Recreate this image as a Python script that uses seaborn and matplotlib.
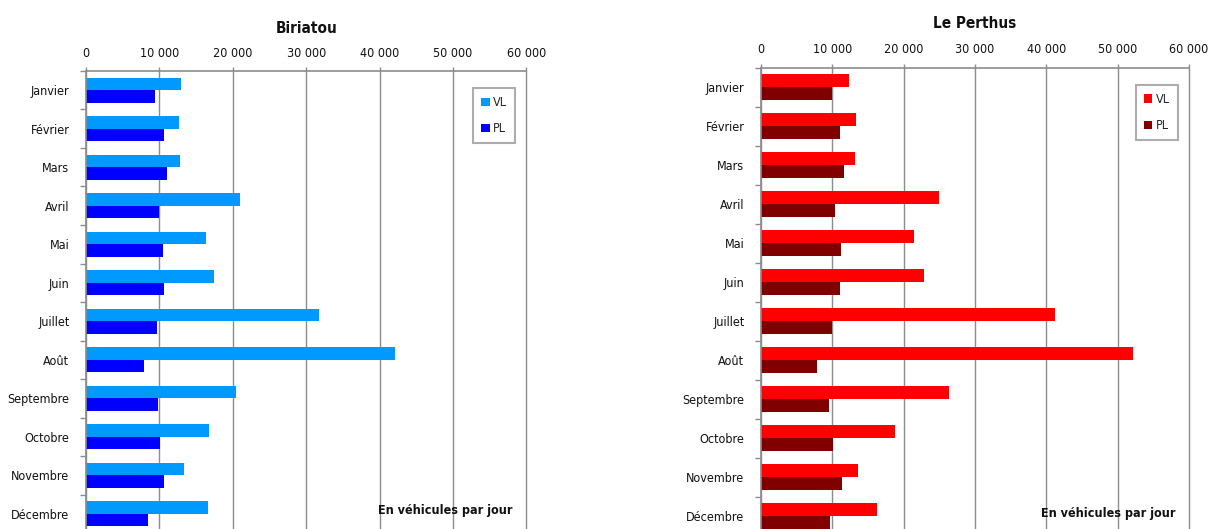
import matplotlib
matplotlib.use("Agg")
import matplotlib.pyplot as plt
from matplotlib import font_manager
from matplotlib.patches import Patch
from matplotlib.ticker import FuncFormatter, FixedLocator
import pandas as pd
import seaborn as sns

# Trafic moyen journalier par mois aux deux passages frontaliers
mois = ["Janvier", "Février", "Mars", "Avril", "Mai", "Juin", "Juillet",
        "Août", "Septembre", "Octobre", "Novembre", "Décembre"]
types = ["VL", "PL"]

biriatou_vl = [12900, 12700, 12800, 21000, 16300, 17500, 31700, 42100, 20400, 16800, 13300, 16600]
biriatou_pl = [9400, 10600, 11000, 9900, 10500, 10600, 9700, 7900, 9800, 10100, 10600, 8500]
perthus_vl = [12300, 13300, 13200, 24900, 21500, 22900, 41200, 52200, 26300, 18800, 13600, 16200]
perthus_pl = [10000, 11000, 11600, 10400, 11200, 11100, 10000, 7900, 9500, 10100, 11300, 9700]

x_ticks = [0, 10000, 20000, 30000, 40000, 50000, 60000]

sns.set_theme(style="white")

# pick a narrow sans-serif if one is installed
fonts = font_manager.fontManager.ttflist
names = {f.name for f in fonts}
stretch = "normal"
if "Liberation Sans Narrow" in names:
    family, size = "Liberation Sans Narrow", 10.5
elif any(f.name == "DejaVu Sans" and str(f.stretch) in ("condensed", "semi-condensed")
         for f in fonts):
    family, size, stretch = "DejaVu Sans", 9, "condensed"
else:
    family, size = "Liberation Sans", 9
plt.rcParams["font.family"] = [family, "DejaVu Sans"]
plt.rcParams["font.stretch"] = stretch

GRID = "#8c8c8c"
INK = "#111111"


def to_long(vl, pl):
    return pd.DataFrame({
        "mois": mois * 2,
        "type": [types[0]] * len(mois) + [types[1]] * len(mois),
        "valeur": list(vl) + list(pl),
    })


def draw(ax, vl, pl, colors, title, title_y):
    df = to_long(vl, pl)
    sns.barplot(data=df, y="mois", x="valeur", hue="type", order=mois,
                hue_order=types, palette=colors, orient="h", width=0.66,
                gap=0, saturation=1, legend=False, ax=ax, linewidth=0)
    ax.set_xlim(0, 60000)
    ax.set_ylim(len(mois) - 0.5, -0.5)
    ax.set_xlabel("")
    ax.set_ylabel("")

    ax.xaxis.set_major_locator(FixedLocator(x_ticks))
    ax.xaxis.set_major_formatter(FuncFormatter(lambda v, p: f"{int(v):,}".replace(",", " ")))
    ax.xaxis.tick_top()
    ax.tick_params(axis="x", which="major", top=True, bottom=False, length=3,
                   width=1, color=GRID, pad=5, labelsize=size, labelcolor=INK)
    ax.grid(axis="x", color=GRID, linewidth=1)
    for gl in ax.get_xgridlines():
        gl.set_clip_on(False)
    ax.set_axisbelow(True)

    # ticks between months on the category axis
    ax.yaxis.set_minor_locator(FixedLocator([i + 0.5 for i in range(-1, len(mois))]))
    ax.tick_params(axis="y", which="major", length=0, pad=12, labelsize=size,
                   labelcolor=INK)
    ax.tick_params(axis="y", which="minor", left=True, length=4, width=1, color=GRID)

    for side in ["right", "bottom"]:
        ax.spines[side].set_visible(False)
    for side in ["top", "left"]:
        ax.spines[side].set_color(GRID)
        ax.spines[side].set_linewidth(1.2)

    ax.text(0.5, title_y, title, transform=ax.transAxes, ha="center",
            va="center", fontsize=size + 2, fontweight="bold", color=INK)

    handles = [Patch(facecolor=c, edgecolor="none", label=t) for c, t in zip(colors, types)]
    leg = ax.legend(handles=handles, loc="upper right", bbox_to_anchor=(0.975, 0.963),
                    fancybox=False, frameon=True, fontsize=size, handlelength=0.65,
                    handleheight=0.65, handletextpad=0.3, labelspacing=1.05,
                    borderpad=0.65, borderaxespad=0)
    leg.get_frame().set_edgecolor("#999999")
    leg.get_frame().set_linewidth(1.5)

    ax.text(0.968, 0.048, "En véhicules par jour", transform=ax.transAxes,
            ha="right", va="center", fontsize=size, fontweight="bold", color=INK)


fig = plt.figure(figsize=(12.08, 5.29), dpi=100)
ax1 = fig.add_axes([0.0712, -0.0076, 0.3646, 0.8734])
ax2 = fig.add_axes([0.630, -0.0123, 0.3543, 0.8847])

draw(ax1, biriatou_vl, biriatou_pl, ["#0099FF", "#0000FF"], "Biriatou", 1.091)
draw(ax2, perthus_vl, perthus_pl, ["#FF0000", "#800000"], "Le Perthus", 1.093)

fig.savefig("out.png", dpi=100)
